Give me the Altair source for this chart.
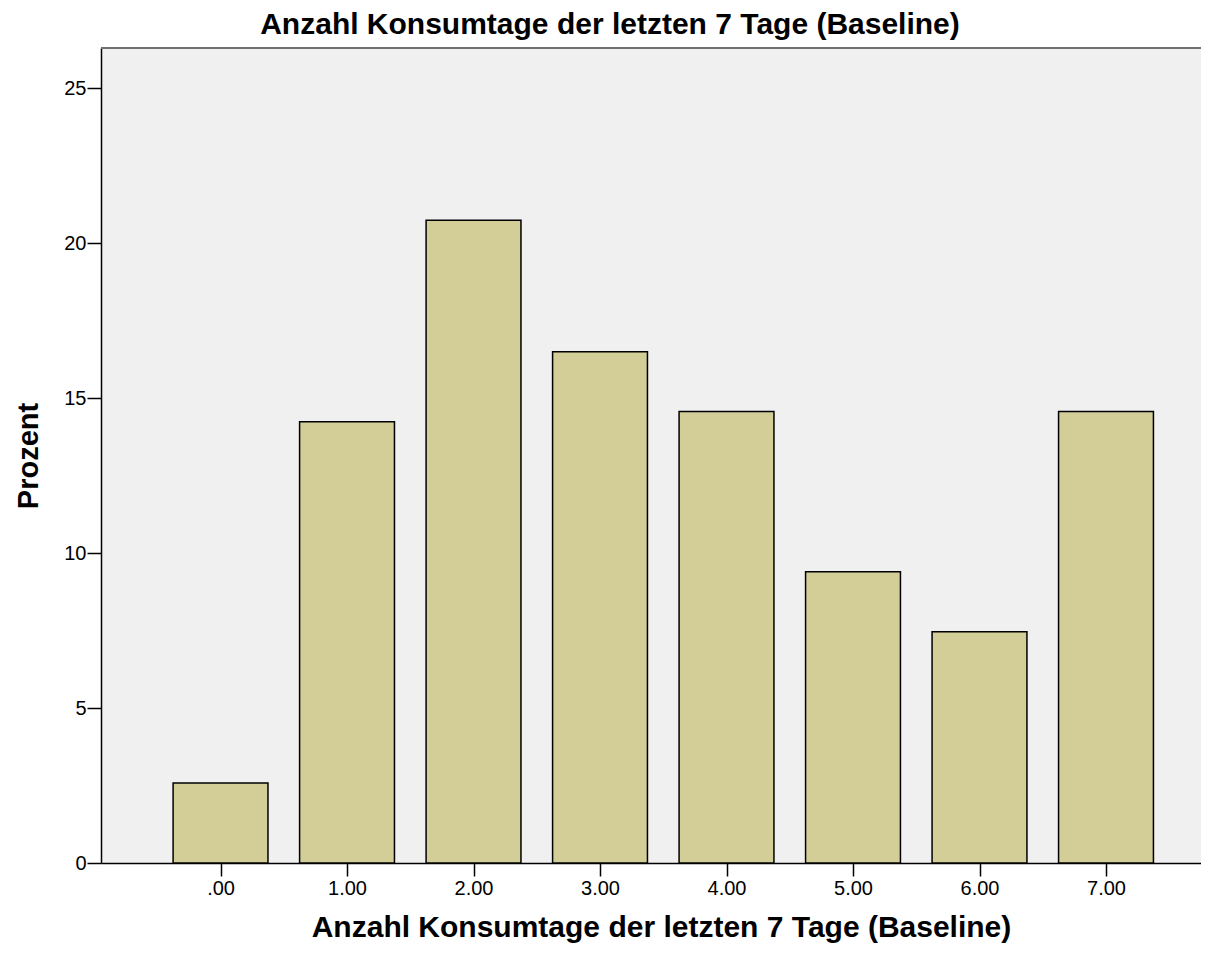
import altair as alt
import pandas as pd

categories = [0, 1, 2, 3, 4, 5, 6, 7]
prozent = [2.58, 14.24, 20.74, 16.50, 14.57, 9.40, 7.46, 14.57]

df = pd.DataFrame({"tage": categories, "prozent": prozent})

title_text = "Anzahl Konsumtage der letzten 7 Tage (Baseline)"
FONT = "Liberation Sans"
W, H = 1100, 815

x_scale = alt.Scale(domain=[-0.945, 7.751], nice=False, zero=False)
y_scale = alt.Scale(domain=[0, 26.3], nice=False)

bars = alt.Chart(df).transform_calculate(
    x0="datum.tage - 0.375", x1="datum.tage + 0.375"
).mark_bar(color="#D3CE97", stroke="#000000", strokeWidth=1.5).encode(
    x=alt.X("x0:Q", scale=x_scale,
            axis=alt.Axis(values=categories, grid=False, domainColor="#000000",
                          domainWidth=1.5, tickWidth=1.5,
                          tickColor="#000000", tickSize=13, labelFontSize=20,
                          labelColor="#000000", labelFont=FONT, labelPadding=2,
                          labelExpr="datum.value == 0 ? '.00' : format(datum.value, '.2f')",
                          title=title_text, titleFont=FONT, titleFontSize=30,
                          titleFontWeight="bold", titleColor="#000000", titlePadding=14,
                          titleX=560, titleAlign="center")),
    x2="x1:Q",
    y=alt.Y("prozent:Q", scale=y_scale,
            axis=alt.Axis(values=[0, 5, 10, 15, 20, 25], grid=False, domainColor="#000000",
                          domainWidth=1.5, tickWidth=1.5,
                          tickColor="#000000", tickSize=14, labelFontSize=20,
                          labelColor="#000000", labelFont=FONT, labelPadding=1,
                          title="Prozent", titleFont=FONT, titleFontSize=29,
                          titleFontWeight="bold", titleColor="#000000", titlePadding=20)),
    y2=alt.datum(0),
)

top_border = alt.Chart(df).mark_rule(color="#707070", strokeWidth=2).encode(
    x=alt.value(0), x2=alt.value(W), y=alt.value(0)
)

chart = alt.layer(bars, top_border).properties(
    width=W, height=H,
    title=alt.TitleParams(title_text, font=FONT, fontSize=30, fontWeight="bold",
                          color="#000000", anchor="middle", offset=7, dx=-41),
    autosize=alt.AutoSizeParams(type="none"),
    padding={"left": 93, "top": 40, "right": 0, "bottom": 90},
    background="#FFFFFF",
).configure_view(fill="#F0F0F0", stroke=None)

chart.save("out.html", embed_options={"renderer": "svg", "actions": False})
